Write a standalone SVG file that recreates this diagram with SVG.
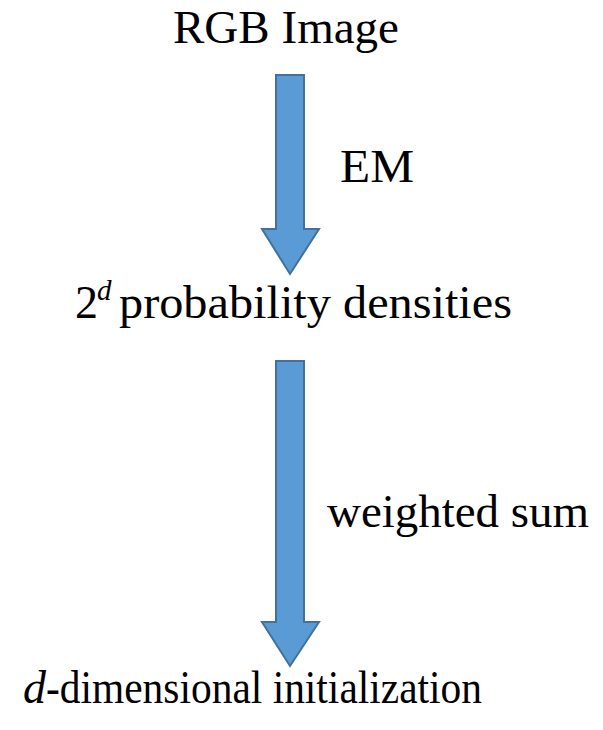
<svg xmlns="http://www.w3.org/2000/svg" width="603" height="730" viewBox="0 0 603 730">
<style>
.t{font-family:"Liberation Serif","Times New Roman",serif;font-size:46px;fill:#000}
.arr{fill:#5B9BD5;stroke:#41719C;stroke-width:2;stroke-linejoin:miter}
</style>
<rect width="603" height="730" fill="#fff"/>
<g id="node-rgb"><text class="t" x="173" y="43" textLength="226" lengthAdjust="spacingAndGlyphs">RGB Image</text></g>
<g id="node-densities"><text class="t" x="75" y="318">2<tspan x="97" y="300" font-style="italic" font-size="29">d</tspan><tspan x="119" y="318" textLength="393" lengthAdjust="spacingAndGlyphs">probability densities</tspan></text></g>
<g id="node-init"><text class="t" x="23" y="703"><tspan font-style="italic">d</tspan><tspan x="46" textLength="436" lengthAdjust="spacingAndGlyphs">-dimensional initialization</tspan></text></g>
<g id="connectors">
<path class="arr" d="M276 75 H304 V229 H319 L290 274 L262 229 H276 Z"/>
<text class="t" x="340" y="182" textLength="74" lengthAdjust="spacingAndGlyphs">EM</text>
<path class="arr" d="M276 361 H304 V622 H319 L290 666 L262 622 H276 Z"/>
<text class="t" x="327" y="527" textLength="262" lengthAdjust="spacingAndGlyphs">weighted sum</text>
</g>
</svg>
